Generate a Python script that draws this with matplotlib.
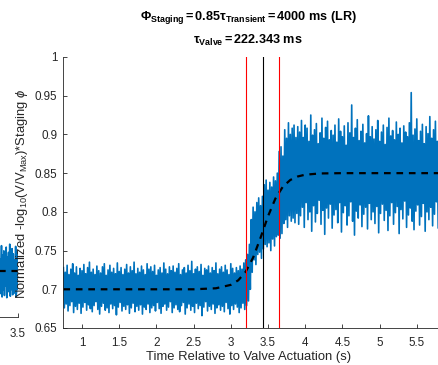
import numpy as np
import matplotlib
matplotlib.use("Agg")
import matplotlib.pyplot as plt

plt.rcParams["font.family"] = ["Liberation Sans", "DejaVu Sans"]
plt.rcParams["mathtext.fontset"] = "custom"
plt.rcParams["mathtext.rm"] = "Liberation Sans"
plt.rcParams["mathtext.it"] = "Liberation Sans:italic"
plt.rcParams["mathtext.bf"] = "Liberation Sans:bold"

# ---- signal: upper / lower excursions every 0.025 s, in units of 1e-3 ----
t_start, t_step = 0.75, 0.025
sig_hi_baseline = [
    728, 722, 731, 719, 726, 733, 721, 729, 718, 727, 724, 732, 720, 728, 735, 722, 726, 719, 730, 724,
    721, 729, 733, 718, 725, 731, 722, 727, 720, 734, 723, 728, 719, 726, 732, 721, 729, 724, 735, 720,
    727, 722, 730, 725, 719, 733, 726, 729, 723, 731, 718, 725, 728, 721, 734, 726, 720, 729, 724, 730,
    722, 727, 733, 719, 725, 728, 721, 731, 724, 736, 720, 726, 729, 723, 732, 718, 727, 725, 730, 721,
    728, 724, 734, 720, 726, 729, 722, 731, 725, 719, 733, 727, 721, 728, 724, 730, 726,
]
sig_lo_baseline = [
    676, 681, 672, 679, 684, 670, 678, 674, 682, 669, 677, 683, 673, 680, 675, 671, 679, 684, 674, 668,
    678, 682, 673, 676, 670, 681, 675, 679, 667, 677, 683, 672, 678, 674, 680, 669, 676, 682, 671, 678,
    673, 680, 668, 677, 674, 681, 670, 676, 679, 672, 683, 675, 669, 678, 681, 673, 677, 684, 670, 676,
    680, 674, 671, 679, 683, 668, 676, 681, 673, 678, 670, 682, 675, 679, 666, 677, 684, 672, 678, 674,
    681, 669, 676, 680, 673, 678, 671, 683, 675, 668, 679, 674, 681, 677, 670, 676, 682,
]
sig_hi_rise = [
    734, 738, 745, 758, 790, 806, 800, 812, 818, 808, 820, 835, 841, 828, 838,
    832, 845, 840, 850, 878, 884, 872, 906, 895, 915, 900, 908, 912, 896, 910,
]
sig_lo_rise = [
    674, 679, 685, 700, 722, 738, 732, 745, 748, 740, 752, 758, 755, 760, 750,
    765, 756, 768, 770, 766, 772, 785, 790, 780, 795, 788, 792, 786, 798, 784,
]
sig_hi_plateau = [
    903, 918, 896, 912, 908, 891, 925, 899, 906, 914, 888, 902, 921, 895, 909, 917, 893, 905, 899, 912,
    890, 920, 904, 897, 911, 886, 915, 902, 938, 896, 908, 919, 892, 904, 913, 889, 901, 924, 897, 910,
    894, 906, 918, 891, 903, 912, 887, 909, 921, 898, 905, 893, 916, 900, 908, 889, 911, 903, 897, 915,
    954, 899, 907, 920, 892, 904, 913, 888, 910, 901, 923, 895, 906, 917, 891, 903, 912, 898, 909, 900,
]
sig_lo_plateau = [
    795, 806, 780, 812, 790, 800, 775, 808, 787, 798, 815, 784, 802, 771, 805, 792, 810, 779, 796, 803,
    786, 812, 774, 799, 808, 783, 795, 813, 788, 770, 801, 792, 809, 781, 797, 806, 778, 811, 790, 800,
    785, 807, 773, 798, 810, 789, 802, 776, 795, 812, 784, 799, 807, 772, 803, 791, 814, 780, 796, 805,
    788, 777, 801, 809, 783, 794, 811, 775, 800, 790, 806, 782, 797, 813, 779, 802, 792, 808, 786, 799,
]

# ---- sigmoid fit evaluated at these times ----
fit_t = [0.75, 2.5, 2.8, 3.0, 3.1, 3.2, 3.3, 3.4, 3.5, 3.6, 3.7, 3.8, 3.9,
         4.0, 4.2, 4.5, 5.9]
fit_y = [0.700, 0.700, 0.7013, 0.7057, 0.7116, 0.7226, 0.741, 0.7666, 0.7943,
         0.8173, 0.8326, 0.8412, 0.8457, 0.848, 0.8496, 0.850, 0.850]

# ---- valve timing ----
t_valve = 3.43          # s
tau_valve = 0.222343    # s

# ---- neighbouring panel (only its right end shows), units of 1e-3 ----
left_t0, left_step = 3.34, 0.01
left_hi = [741, 728, 746, 733, 739, 725, 744, 731, 737,
           748, 729, 742, 735, 727, 745, 738, 732]
left_lo = [681, 690, 677, 686, 679, 692, 676, 684, 689,
           678, 687, 680, 693, 682, 677, 688, 683]
left_fit = 0.712

title1 = r"$\mathbf{Φ_{Staging}=0.85τ_{Transient}=4000\ ms\ (LR)}$"
title2 = r"$\mathbf{τ_{Valve}=222.343\ ms}$"
xlabel = "Time Relative to Valve Actuation (s)"
ylabel = r"Normalized -log$_{10}$(V/V$_{\mathrm{Max}}$)*Staging $\phi$"
xticks = [1, 1.5, 2, 2.5, 3, 3.5, 4, 4.5, 5, 5.5]
yticks = [0.65, 0.7, 0.75, 0.8, 0.85, 0.9, 0.95, 1.0]

BLUE = "#0072BD"
DARK = "#262626"

W, H = 438, 365
fig = plt.figure(figsize=(W / 100, H / 100), dpi=100)


def px_axes(x0, y_top, x1, y_bot):
    return fig.add_axes([x0 / W, 1 - y_bot / H, (x1 - x0) / W, (y_bot - y_top) / H])


def zigzag(t0, step, hi, lo):
    hi = np.asarray(hi) / 1000.0
    lo = np.asarray(lo) / 1000.0
    n = len(hi)
    t = t0 + step * np.arange(n)
    xs = np.empty(2 * n)
    ys = np.empty(2 * n)
    xs[0::2] = t
    xs[1::2] = t + step / 2
    ys[0::2] = hi
    ys[1::2] = lo
    return xs, ys


def style_axes(a, pad):
    for s in ("top", "right"):
        a.spines[s].set_visible(False)
    for s in ("left", "bottom"):
        a.spines[s].set_color(DARK)
        a.spines[s].set_linewidth(0.6)
    a.tick_params(direction="in", length=3, width=0.6, colors=DARK,
                  labelsize=8.4, pad=pad)


# main panel
ax = px_axes(63, 57, 445, 328)
xs, ys = zigzag(t_start, t_step,
                sig_hi_baseline + sig_hi_rise + sig_hi_plateau,
                sig_lo_baseline + sig_lo_rise + sig_lo_plateau)
ax.plot(xs, ys, color=BLUE, lw=1.2)
ax.plot(fit_t, fit_y, color="black", lw=1.6, dashes=(3, 2.6))
for tv, c in ((t_valve - tau_valve, "red"), (t_valve, "black"),
              (t_valve + tau_valve, "red")):
    ax.axvline(tv, color=c, lw=0.8)
ax.set_xlim(0.7446, 0.7446 + 382 / 74.4)
ax.set_ylim(0.65, 1.0)
ax.set_xticks(xticks)
ax.set_yticks(yticks)
ax.set_xticklabels([f"{v:g}" for v in xticks])
ax.set_yticklabels([f"{v:g}" for v in yticks])
style_axes(ax, 6.4)
ax.tick_params(axis="y", pad=4)

fig.text(248 / W, 1 - 18 / H, title1, ha="center", va="center",
         fontsize=9.1, color="black")
fig.text(248 / W, 1 - 40 / H, title2, ha="center", va="center",
         fontsize=9.1, color="black")
fig.text(249 / W, 1 - 357 / H, xlabel, ha="center", va="center",
         fontsize=9.4, color=DARK)
fig.text(22 / W, 1 - 194 / H, ylabel, ha="center", va="center",
         rotation=90, fontsize=9.4, color=DARK)

# neighbouring panel, cut off at the figure edge
axl = px_axes(-100, 57, 18, 317)
lx, ly = zigzag(left_t0, left_step, left_hi, left_lo)
axl.plot(lx, ly, color=BLUE, lw=1.2)
axl.plot([2.5, 3.5], [left_fit, left_fit], color="black", lw=1.6,
         dashes=(3, 2.6))
axl.set_xlim(2.5, 3.5)
axl.set_ylim(0.65, 1.0)
axl.set_xticks([3.5])
axl.set_xticklabels(["3.5"])
axl.set_yticks([])
style_axes(axl, 8)
axl.spines["left"].set_visible(False)

fig.savefig("out.png", dpi=100)
